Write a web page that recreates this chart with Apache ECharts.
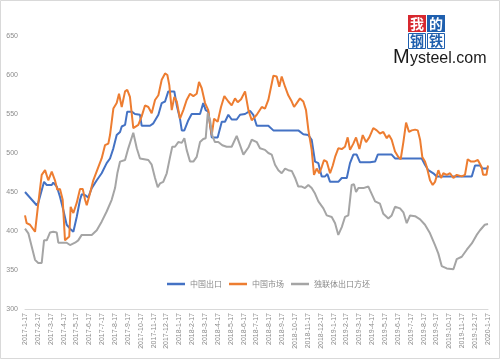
<!DOCTYPE html>
<html>
<head>
<meta charset="utf-8">
<script src="https://cdn.jsdelivr.net/npm/echarts@6/dist/echarts.min.js"></script>
<style>html,body{margin:0;padding:0;background:#fff}#c{width:500px;height:359px}</style>
</head>
<body>
<div id="c"></div>
<script>
// x tick labels (one per month)
const monthLabels = ['2017-1-17','2017-2-17','2017-3-17','2017-4-17','2017-5-17','2017-6-17','2017-7-17','2017-8-17','2017-9-17','2017-10-17','2017-11-17','2017-12-17',
  '2018-1-17','2018-2-17','2018-3-17','2018-4-17','2018-5-17','2018-6-17','2018-7-17','2018-8-17','2018-9-17','2018-10-17','2018-11-17','2018-12-17',
  '2019-1-17','2019-2-17','2019-3-17','2019-4-17','2019-5-17','2019-6-17','2019-7-17','2019-8-17','2019-9-17','2019-10-17','2019-11-17','2019-12-17','2020-1-17'];
const seriesNames = ['中国出口','中国市场','独联体出口方坯'];

// time in months since 2017-1-17, and values
const chinaExportT = [0,0.91,1.03,1.48,1.69,2.08,2.20,2.47,2.72,2.98,3.24,3.50,3.76,4.02,4.28,4.41,4.67,4.92,5.19,5.58,5.96,6.35,6.61,6.87,7.13,7.39,7.52,7.78,7.95,8.30,8.55,8.94,9.07,9.72,9.98,10.37,10.63,10.89,11.14,11.61,11.80,12.05,12.19,12.39,12.70,12.96,13.61,13.86,14.05,14.25,14.52,14.98,15.30,15.55,15.81,16.07,16.46,16.72,17.11,17.50,17.75,18.02,18.92,19.31,21.25,21.64,22.03,22.29,22.55,22.81,23.07,23.33,23.51,23.72,24.36,24.63,25.02,25.27,25.53,25.79,26.05,26.83,27.22,27.43,28.51,28.77,30.85,31.10,31.36,31.75,32.01,34.74,34.99,35.38,35.56,35.90,36.00];
const chinaExportV = [450,433,436,463,459,459,462,457,444,427,408,403,399,418,440,447,446,443,455,465,474,487,493,506,523,527,534,536,553,553,550,549,535,535,538,549,564,566,579,579,561,544,529,529,542,550,550,564,555,553,520,520,540,540,549,543,543,549,550,554,549,535,535,529,529,524,523,517,489,487,470,470,473,463,463,468,468,487,498,498,488,488,489,498,498,493,493,485,478,474,470,470,484,484,480,480,482];

const chinaMarketT = [0,0.13,0.39,0.78,1.03,1.30,1.56,1.81,2.08,2.20,2.33,2.51,2.72,2.93,3.11,3.24,3.44,3.55,3.76,4.02,4.28,4.49,4.67,4.80,5.05,5.31,5.70,5.96,6.22,6.48,6.61,6.87,7.13,7.31,7.52,7.78,7.95,8.16,8.42,8.55,8.81,9.07,9.33,9.59,9.85,10.11,10.37,10.63,10.89,11.07,11.22,11.41,11.61,11.80,12.05,12.31,12.57,12.83,13.09,13.35,13.53,13.74,14.00,14.25,14.39,14.52,14.70,14.98,15.24,15.50,15.81,16.07,16.33,16.54,16.80,17.11,17.37,17.63,17.75,18.02,18.41,18.66,18.92,19.31,19.57,19.77,19.96,20.22,20.47,20.74,20.92,21.13,21.38,21.64,21.85,22.03,22.29,22.47,22.68,22.88,23.07,23.25,23.46,23.72,23.93,24.11,24.36,24.63,24.88,25.09,25.27,25.53,25.74,26.00,26.26,26.52,26.77,27.08,27.35,27.60,27.86,28.13,28.30,28.51,28.77,29.03,29.21,29.42,29.63,29.86,30.07,30.33,30.54,30.72,30.89,31.10,31.24,31.49,31.70,31.88,32.14,32.35,32.53,32.79,33.05,33.31,33.57,33.96,34.21,34.42,34.68,34.92,35.21,35.50,35.62,35.88,36.00];
const chinaMarketV = [420,410,408,399,435,472,478,465,476,478,465,453,454,440,388,390,393,431,423,436,454,454,440,433,448,465,482,493,510,512,523,557,564,576,559,579,581,572,532,530,536,547,561,559,551,568,574,594,602,600,587,555,572,566,544,555,568,576,573,576,591,583,564,555,536,523,544,540,559,573,566,561,570,565,569,579,555,542,541,549,559,557,568,599,598,585,598,585,574,566,559,564,570,566,555,530,504,472,480,474,482,491,489,474,484,495,506,505,508,520,504,512,520,505,523,514,520,532,529,525,527,519,523,517,502,495,492,514,539,527,529,530,529,517,495,489,482,465,459,463,478,468,474,472,474,468,472,470,472,492,489,489,491,482,472,472,484];

const cisBilletT = [0,0.26,0.52,0.78,1.03,1.30,1.48,1.69,1.94,2.20,2.47,2.59,3.24,3.50,3.63,3.89,4.14,4.41,5.19,5.58,5.96,6.35,6.74,7.00,7.18,7.39,7.78,8.03,8.42,8.69,8.94,9.07,9.59,9.85,10.11,10.32,10.50,10.75,11.02,11.28,11.45,11.66,11.92,12.19,12.39,12.57,12.83,13.09,13.35,13.61,13.86,14.05,14.21,14.39,14.57,14.77,15.03,15.34,15.68,16.07,16.46,16.72,16.98,17.37,17.63,17.75,18.02,18.27,18.66,18.92,19.18,19.44,19.70,19.96,20.22,20.47,20.74,21.00,21.25,21.52,21.77,22.03,22.29,22.55,22.81,23.20,23.46,23.85,24.11,24.36,24.63,24.88,25.14,25.40,25.58,25.74,25.92,26.31,26.70,26.83,27.22,27.60,27.86,28.25,28.51,28.77,29.16,29.42,29.68,29.94,30.33,30.72,31.10,31.49,31.88,32.14,32.40,32.79,33.31,33.57,33.96,34.35,34.74,35.12,35.38,35.75,36.00];
const cisBilletV = [403,397,380,363,359,359,388,388,398,399,398,385,385,382,380,385,388,395,395,401,412,425,440,455,474,489,491,506,526,506,493,492,491,485,468,456,461,463,474,495,508,508,514,513,519,504,489,489,495,514,518,519,551,542,522,514,514,510,508,508,522,510,498,507,517,519,514,506,504,500,498,485,478,474,480,478,477,468,457,457,455,459,455,448,438,429,420,418,410,395,405,418,420,459,460,450,455,455,457,452,438,435,422,416,420,431,429,424,410,420,419,415,408,397,382,371,355,352,351,364,367,376,384,395,401,408,409];

const yTicks = {min: 300, max: 650, step: 50};

function pairs(t, v) { return t.map((x, i) => [x, v[i]]); }

const colors = ['#4472C4', '#ED7D31', '#A5A5A5'];
const chart = echarts.init(document.getElementById('c'), null, {renderer: 'canvas'});
const font = 'Liberation Sans, Arial, sans-serif';

function mkSeries(name, data, color) {
  return {
    name: name, type: 'line', data: data, symbol: 'none', smooth: false,
    lineStyle: {width: 2, color: color}, itemStyle: {color: color},
    clip: false, emphasis: {disabled: true}
  };
}

chart.setOption({
  animation: false,
  backgroundColor: '#ffffff',
  grid: {left: 25, right: 12, top: 36, bottom: 50, containLabel: false},
  xAxis: {
    type: 'value', min: 0, max: monthLabels.length - 1, interval: 1,
    axisLine: {show: true, lineStyle: {color: '#d9d9d9', width: 1}},
    axisTick: {show: false},
    splitLine: {show: false},
    axisLabel: {
      rotate: 90, margin: 4, fontSize: 7, color: '#8c8c8c', fontFamily: font,
      formatter: v => monthLabels[Math.round(v)] || ''
    }
  },
  yAxis: {
    type: 'value', min: yTicks.min, max: yTicks.max, interval: yTicks.step,
    axisLine: {show: false}, axisTick: {show: false}, splitLine: {show: false},
    axisLabel: {fontSize: 7, color: '#8c8c8c', margin: 7, fontFamily: font}
  },
  legend: {
    left: 162, top: 275, icon: 'rect', itemWidth: 18, itemHeight: 2.5, itemGap: 7,
    data: seriesNames,
    textStyle: {fontSize: 8, color: '#8a8a8a', fontFamily: 'Noto Sans CJK SC, sans-serif'}
  },
  series: [
    mkSeries(seriesNames[0], pairs(chinaExportT, chinaExportV), colors[0]),
    mkSeries(seriesNames[1], pairs(chinaMarketT, chinaMarketV), colors[1]),
    mkSeries(seriesNames[2], pairs(cisBilletT, cisBilletV), colors[2])
  ],
  graphic: [
    {type: 'rect', shape: {x: 0.5, y: 0.5, width: 499, height: 358}, style: {fill: 'none', stroke: '#d9d9d9', lineWidth: 1}, silent: true},
    {type: 'rect', shape: {x: 408, y: 15, width: 18, height: 17}, style: {fill: '#d7282f'}},
    {type: 'rect', shape: {x: 427, y: 15, width: 18, height: 17}, style: {fill: '#1f5fae'}},
    {type: 'rect', shape: {x: 408.5, y: 33.5, width: 17, height: 15}, style: {fill: '#fff', stroke: '#1f5fae', lineWidth: 1}},
    {type: 'rect', shape: {x: 427.5, y: 33.5, width: 17, height: 15}, style: {fill: '#fff', stroke: '#1f5fae', lineWidth: 1}},
    {type: 'text', x: 417, y: 23.5, style: {text: '我', fill: '#fff', font: 'bold 14px "Noto Sans CJK SC"', align: 'center', verticalAlign: 'middle'}},
    {type: 'text', x: 436, y: 23.5, style: {text: '的', fill: '#fff', font: 'bold 14px "Noto Sans CJK SC"', align: 'center', verticalAlign: 'middle'}},
    {type: 'text', x: 417, y: 41, style: {text: '钢', fill: '#1f5fae', font: 'bold 14px "Noto Sans CJK SC"', align: 'center', verticalAlign: 'middle'}},
    {type: 'text', x: 436, y: 41, style: {text: '铁', fill: '#1f5fae', font: 'bold 14px "Noto Sans CJK SC"', align: 'center', verticalAlign: 'middle'}},
    {type: 'text', x: 393, y: 57, style: {text: 'M', fill: '#1a1a1a', font: '20px "Liberation Sans"', align: 'left', verticalAlign: 'middle'}},
    {type: 'text', x: 410, y: 58.5, style: {text: 'ysteel.com', fill: '#1a1a1a', font: '16px "Liberation Sans"', align: 'left', verticalAlign: 'middle'}}
  ]
});
</script>
</body>
</html>
